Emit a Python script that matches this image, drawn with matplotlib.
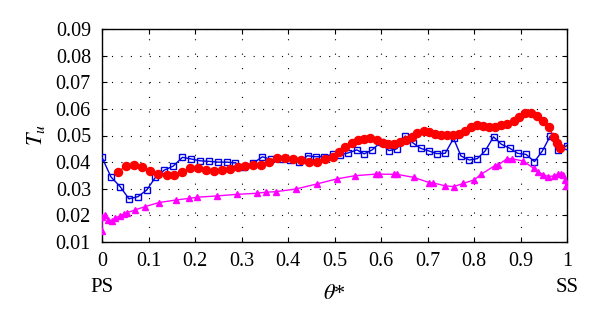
import matplotlib
matplotlib.use("Agg")
import matplotlib.pyplot as plt

# theta* positions and turbulence intensity for the three traverses
blue_x = [0.000, 0.019, 0.039, 0.058, 0.077, 0.096, 0.115, 0.134, 0.153, 0.173,
          0.191, 0.211, 0.230, 0.249, 0.268, 0.287, 0.306, 0.325, 0.345, 0.364,
          0.384, 0.404, 0.424, 0.442, 0.460, 0.478, 0.496, 0.512, 0.530, 0.548,
          0.564, 0.581, 0.599, 0.617, 0.634, 0.652, 0.668, 0.685, 0.703, 0.720,
          0.738, 0.756, 0.772, 0.790, 0.807, 0.824, 0.842, 0.859, 0.877, 0.894,
          0.912, 0.930, 0.947, 0.964, 0.981, 1.000]
blue_tu = [0.0418, 0.0345, 0.0308, 0.0262, 0.0270, 0.0295, 0.0343, 0.0370, 0.0385, 0.0418,
           0.0412, 0.0405, 0.0403, 0.0400, 0.0400, 0.0397, 0.0383, 0.0396, 0.0420, 0.0410,
           0.0410, 0.0408, 0.0402, 0.0424, 0.0420, 0.0421, 0.0430, 0.0427, 0.0435, 0.0446,
           0.0431, 0.0446, 0.0474, 0.0443, 0.0450, 0.0498, 0.0473, 0.0452, 0.0442, 0.0432,
           0.0433, 0.0489, 0.0423, 0.0408, 0.0413, 0.0442, 0.0495, 0.0467, 0.0452, 0.0433,
           0.0429, 0.0402, 0.0442, 0.0498, 0.0446, 0.0462]

red_x = [0.034, 0.051, 0.069, 0.085, 0.103, 0.121, 0.139, 0.155, 0.173, 0.189,
         0.206, 0.223, 0.241, 0.259, 0.275, 0.292, 0.308, 0.325, 0.343, 0.360,
         0.376, 0.394, 0.410, 0.427, 0.445, 0.462, 0.480, 0.496, 0.509, 0.523,
         0.537, 0.551, 0.564, 0.576, 0.591, 0.605, 0.616, 0.628, 0.641, 0.654,
         0.666, 0.678, 0.692, 0.704, 0.717, 0.730, 0.742, 0.755, 0.768, 0.781,
         0.794, 0.807, 0.820, 0.833, 0.846, 0.859, 0.872, 0.885, 0.897, 0.910,
         0.923, 0.935, 0.948, 0.961, 0.971, 0.978, 0.985]
red_tu = [0.0362, 0.0385, 0.0388, 0.0383, 0.0367, 0.0355, 0.0352, 0.0350, 0.0364, 0.0377,
          0.0377, 0.0370, 0.0368, 0.0370, 0.0373, 0.0383, 0.0387, 0.0389, 0.0389, 0.0400,
          0.0415, 0.0415, 0.0410, 0.0407, 0.0399, 0.0399, 0.0412, 0.0420, 0.0439, 0.0458,
          0.0473, 0.0483, 0.0488, 0.0489, 0.0483, 0.0473, 0.0468, 0.0468, 0.0474, 0.0483,
          0.0493, 0.0508, 0.0518, 0.0513, 0.0506, 0.0502, 0.0501, 0.0502, 0.0506, 0.0517,
          0.0533, 0.0539, 0.0535, 0.0533, 0.0533, 0.0539, 0.0545, 0.0554, 0.0571, 0.0586,
          0.0586, 0.0573, 0.0556, 0.0531, 0.0496, 0.0471, 0.0454]

mag_x = [0.000, 0.000, 0.0065, 0.0136, 0.021, 0.028, 0.038, 0.047, 0.054, 0.070,
         0.093, 0.122, 0.160, 0.188, 0.204, 0.247, 0.290, 0.333, 0.352, 0.374,
         0.417, 0.462, 0.505, 0.544, 0.589, 0.596, 0.627, 0.634, 0.670, 0.704,
         0.712, 0.738, 0.756, 0.777, 0.800, 0.815, 0.845, 0.852, 0.870, 0.881,
         0.906, 0.928, 0.938, 0.949, 0.960, 0.971, 0.981, 0.988, 0.992, 0.996,
         0.998]
mag_tu = [0.0142, 0.0195, 0.0201, 0.0183, 0.0180, 0.0189, 0.0198, 0.0205, 0.0210, 0.0220,
          0.0233, 0.0248, 0.0258, 0.0264, 0.0268, 0.0273, 0.0279, 0.0283, 0.0287, 0.0289,
          0.0299, 0.0318, 0.0337, 0.0349, 0.0355, 0.0355, 0.0354, 0.0354, 0.0343, 0.0323,
          0.0322, 0.0311, 0.0308, 0.0320, 0.0333, 0.0354, 0.0387, 0.0389, 0.0412, 0.0413,
          0.0404, 0.0377, 0.0364, 0.0352, 0.0346, 0.0348, 0.0354, 0.0357, 0.0350, 0.0333,
          0.0311]

xticks = [0, 0.1, 0.2, 0.3, 0.4, 0.5, 0.6, 0.7, 0.8, 0.9, 1]
xtick_labels = ["0", "0.1", "0.2", "0.3", "0.4", "0.5", "0.6", "0.7", "0.8", "0.9", "1"]
yticks = [0.01, 0.02, 0.03, 0.04, 0.05, 0.06, 0.07, 0.08, 0.09]

plt.rcParams["font.family"] = "Liberation Serif"
plt.rcParams["mathtext.fontset"] = "stix"

fig = plt.figure(figsize=(6, 3.24), dpi=100)
ax = fig.add_axes([102 / 600, 1 - 242 / 324, 465 / 600, 213 / 324])

ax.plot(blue_x, blue_tu, "-s", color="#0000e0", mfc="none", mec="#0000e0",
        ms=5, mew=1.0, lw=1.0, zorder=3)
ax.plot(mag_x, mag_tu, "-^", color="#ff00ff", ms=5, lw=1.0, zorder=3)
ax.plot(red_x, red_tu, "-o", color="#ff0000", ms=5.8, lw=1.0, zorder=4)

ax.set_xlim(0, 1)
ax.set_ylim(0.01, 0.09)
ax.set_xticks(xticks)
ax.set_xticklabels(xtick_labels)
ax.set_yticks(yticks)
ax.set_yticklabels([f"{v:.2f}" for v in yticks])
ax.tick_params(direction="in", top=True, right=True, length=3.5, width=0.8,
               labelsize=14.5)
ax.tick_params(axis="y", pad=8)
ax.tick_params(axis="x", pad=7)
for s in ax.spines.values():
    s.set_linewidth(1.0)

ax.xaxis.grid(True, linestyle=(0, (1, 12)), color="black", lw=0.8)
ax.yaxis.grid(True, linestyle=(0, (1, 7.5)), color="black", lw=0.8)
ax.set_axisbelow(True)

ax.set_ylabel("$T_u$", fontsize=16, labelpad=6)
ax.set_xlabel(r"$\theta$*", fontsize=16, labelpad=10)
ax.text(0, -0.215, "PS", transform=ax.transAxes, ha="center", va="center", fontsize=15)
ax.text(1, -0.215, "SS", transform=ax.transAxes, ha="center", va="center", fontsize=15)

fig.savefig("out.png", dpi=100)
